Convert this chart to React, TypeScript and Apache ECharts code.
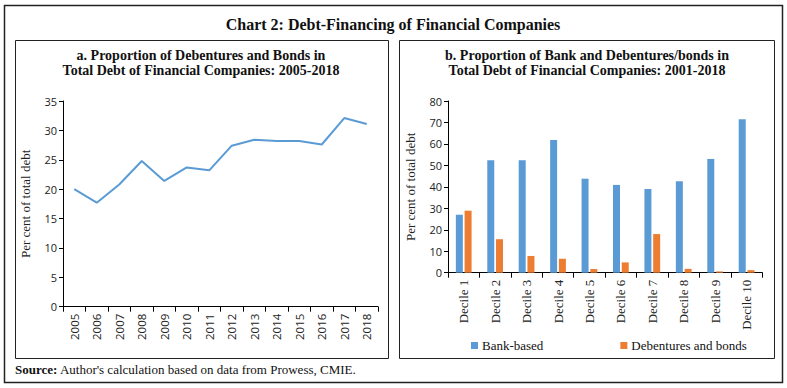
import React, { useEffect, useRef } from "react";
import * as echarts from "echarts";

const years = ["2005","2006","2007","2008","2009","2010","2011","2012","2013","2014","2015","2016","2017","2018"];
const debentureShare = [20.0, 17.7, 20.8, 24.8, 21.4, 23.7, 23.2, 27.4, 28.4, 28.2, 28.2, 27.6, 32.1, 31.1];

const deciles = ["Decile 1","Decile 2","Decile 3","Decile 4","Decile 5","Decile 6","Decile 7","Decile 8","Decile 9","Decile 10"];
const bankBased = [27.0, 52.4, 52.4, 61.8, 43.8, 40.9, 39.0, 42.6, 53.0, 71.5];
const debenturesBonds = [28.9, 15.6, 7.8, 6.5, 1.7, 4.8, 18.0, 1.8, 0.6, 1.2];

const yTicksA = { min: 0, max: 35, interval: 5 };
const yTicksB = { min: 0, max: 80, interval: 10 };

const SERIF = "'Liberation Serif', 'DejaVu Serif', serif";
const SANS = "'Open Sans', 'Noto Sans', sans-serif";
const BLUE = "#5B9BD5";
const ORANGE = "#ED7D31";

export default function App() {
  const ref = useRef<HTMLDivElement>(null);
  useEffect(() => {
    if (!ref.current) return;
    const chart = echarts.init(ref.current, undefined, { renderer: "svg" });
    const axisLine = { show: true, lineStyle: { color: "#000", width: 1 } };
    const axisTick = { show: true, length: 4, lineStyle: { color: "#000", width: 1 } };
    chart.setOption({
      animation: false,
      backgroundColor: "#fff",
      graphic: [
        { type: "rect", shape: { x: 4.5, y: 5.5, width: 778, height: 377 }, style: { fill: "none", stroke: "#222", lineWidth: 1.5 } },
        { type: "rect", shape: { x: 15.5, y: 40.5, width: 373, height: 318 }, style: { fill: "none", stroke: "#222", lineWidth: 1 } },
        { type: "rect", shape: { x: 399.5, y: 40.5, width: 375, height: 318 }, style: { fill: "none", stroke: "#222", lineWidth: 1 } },
        { type: "text", x: 393, y: 24, style: { text: "Chart 2: Debt-Financing of Financial Companies", font: `bold 16px ${SERIF}`, fill: "#111", textAlign: "center", textVerticalAlign: "middle" } },
        { type: "text", x: 201, y: 55, style: { text: "a. Proportion of Debentures and Bonds in", font: `bold 14px ${SERIF}`, fill: "#111", textAlign: "center", textVerticalAlign: "middle" } },
        { type: "text", x: 201, y: 70, style: { text: "Total Debt of Financial Companies: 2005-2018", font: `bold 14px ${SERIF}`, fill: "#111", textAlign: "center", textVerticalAlign: "middle" } },
        { type: "text", x: 587, y: 55, style: { text: "b. Proportion of Bank and Debentures/bonds in", font: `bold 14px ${SERIF}`, fill: "#111", textAlign: "center", textVerticalAlign: "middle" } },
        { type: "text", x: 587, y: 70, style: { text: "Total Debt of Financial Companies: 2001-2018", font: `bold 14px ${SERIF}`, fill: "#111", textAlign: "center", textVerticalAlign: "middle" } },
        {
          type: "text", x: 15, y: 369,
          style: {
            text: "{b|Source:} Author's calculation based on data from Prowess, CMIE.",
            font: `13px ${SERIF}`, fill: "#111", textVerticalAlign: "middle",
            rich: { b: { fontWeight: "bold", fontFamily: SERIF, fontSize: 13 } },
          },
        },
      ],
      legend: {
        show: true,
        data: ["Bank-based", "Debentures and bonds"],
        left: 466, top: 334,
        itemWidth: 7, itemHeight: 7, itemGap: 77,
        icon: "rect",
        textStyle: { fontFamily: SERIF, fontSize: 13, color: "#111", padding: [0, 0, 0, -1] },
      },
      grid: [
        { left: 63, top: 101, width: 315, height: 205.7 },
        { left: 448, top: 101, width: 314.3, height: 171.7 },
      ],
      xAxis: [
        {
          type: "category", gridIndex: 0, data: years, boundaryGap: true,
          axisLine, axisTick: { ...axisTick, length: 5, interval: 0 },
          axisLabel: { rotate: 90, interval: 0, fontFamily: SANS, fontSize: 11.5, color: "#222", margin: 7 },
        },
        {
          type: "category", gridIndex: 1, data: deciles, boundaryGap: true,
          axisLine, axisTick: { ...axisTick, length: 5, interval: 0 },
          axisLabel: { rotate: 90, interval: 0, fontFamily: SERIF, fontSize: 13, color: "#222", margin: 7 },
        },
      ],
      yAxis: [
        {
          type: "value", gridIndex: 0, ...yTicksA,
          axisLine, axisTick, splitLine: { show: false },
          axisLabel: { fontFamily: SANS, fontSize: 11, color: "#222", margin: 6 },
          name: "Per cent of total debt", nameLocation: "middle", nameGap: 31,
          nameTextStyle: { fontFamily: SERIF, fontSize: 13, color: "#222" },
        },
        {
          type: "value", gridIndex: 1, ...yTicksB,
          axisLine, axisTick, splitLine: { show: false },
          axisLabel: { fontFamily: SANS, fontSize: 11, color: "#222", margin: 6 },
          name: "Per cent of total debt", nameLocation: "middle", nameGap: 31,
          nameTextStyle: { fontFamily: SERIF, fontSize: 13, color: "#222" },
        },
      ],
      series: [
        {
          type: "line", xAxisIndex: 0, yAxisIndex: 0, data: debentureShare,
          showSymbol: false, lineStyle: { color: BLUE, width: 2 }, itemStyle: { color: BLUE },
        },
        {
          name: "Bank-based", type: "bar", xAxisIndex: 1, yAxisIndex: 1, data: bankBased,
          barWidth: 7, barGap: "25%", itemStyle: { color: BLUE },
        },
        {
          name: "Debentures and bonds", type: "bar", xAxisIndex: 1, yAxisIndex: 1, data: debenturesBonds,
          barWidth: 7, barGap: "25%", itemStyle: { color: ORANGE },
        },
      ],
    });
    return () => chart.dispose();
  }, []);
  return <div ref={ref} style={{ position: "fixed", left: 0, top: 0, width: 787, height: 388, background: "#fff" }} />;
}
